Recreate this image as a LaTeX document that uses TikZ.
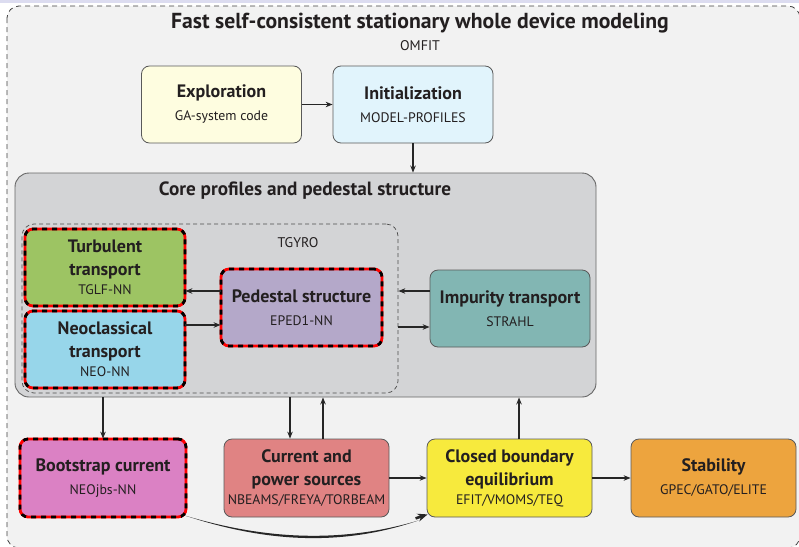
\documentclass[tikz,border=0pt]{standalone}
\usepackage{fontspec}
\setmainfont{PT Sans}
\usetikzlibrary{arrows.meta}
\definecolor{bgout}{HTML}{F2F2F2}
\definecolor{topband}{HTML}{DCDCF0}
\definecolor{corefill}{HTML}{D3D4D6}
\definecolor{explfill}{HTML}{FEFDE0}
\definecolor{initfill}{HTML}{E1F4FC}
\definecolor{turbfill}{HTML}{9DC463}
\definecolor{neofill}{HTML}{97D6EA}
\definecolor{pedfill}{HTML}{B4A8C9}
\definecolor{impfill}{HTML}{82B6B3}
\definecolor{bootfill}{HTML}{DB81C4}
\definecolor{curfill}{HTML}{E08383}
\definecolor{clofill}{HTML}{F7EA3D}
\definecolor{stabfill}{HTML}{EDA43E}
\definecolor{txt}{HTML}{231F20}
\newcommand\boxttl{\bfseries\fontsize{18}{23}\selectfont}
\newcommand\boxsub{\mdseries\fontsize{13.8}{23}\selectfont}
\tikzset{
  box/.style={rounded corners=8pt, draw=black!65, line width=0.8pt,
    minimum width=160pt, minimum height=77pt, align=center, text=txt, inner sep=2pt,
    font=\boxttl},
  nnbox/.style={box, draw=none,
    postaction={draw=red, line width=2.8pt, rounded corners=8pt},
    postaction={draw=black, line width=2.8pt, rounded corners=8pt, dash pattern=on 5pt off 5pt}},
  arr/.style={-{Stealth[length=7pt,width=5.5pt]}, line width=1.1pt, draw=black!85},
}
\begin{document}
\begin{tikzpicture}[x=1pt,y=-1pt]
\useasboundingbox (0,0) rectangle (799,546);
\begin{scope}
\clip (0,0) rectangle (799,546);
\fill[white] (0,0) rectangle (799,546);
\fill[topband] (0,0) rectangle (799,2.5);
\draw[fill=bgout, draw=black!75, line width=0.8pt, dash pattern=on 5pt off 4pt, rounded corners=12pt] (7,6) rectangle (800,548);
\end{scope}

\node[text=txt, font=\bfseries\fontsize{21.7}{26}\selectfont] (title) at (420,23) {Fast self-consistent stationary whole device modeling};
\node[text=txt, font=\fontsize{14}{17}\selectfont] (omfit) at (420,45.5) {OMFIT};

\node[box, fill=explfill] (expl) at (221.5,104.5) {Exploration\\\boxsub GA-system code};
\node[box, fill=initfill] (init) at (413,104.5) {Initialization\\\boxsub MODEL-PROFILES};

\node[draw=black!60, line width=0.9pt, fill=corefill, rounded corners=14pt, minimum width=581pt, minimum height=224pt] (core) at (305.5,285) {};
\node[text=txt, font=\bfseries\fontsize{19.2}{23}\selectfont] (coretitle) at (305,190.5) {Core profiles and pedestal structure};

\node[draw=black!70, line width=0.7pt, dash pattern=on 4pt off 3pt, rounded corners=12pt, minimum width=376pt, minimum height=169pt] (tgyro) at (210,308.5) {};
\node[text=txt, font=\fontsize{14}{17}\selectfont] (tgyrolbl) at (298,243) {TGYRO};

\node[nnbox, fill=turbfill] (turb) at (105,267.5) {Turbulent\\transport\\[-4pt]\boxsub TGLF-NN};
\node[nnbox, fill=neofill] (neo) at (105,349.5) {Neoclassical\\transport\\[-4pt]\boxsub NEO-NN};
\node[nnbox, fill=pedfill, minimum width=161pt] (ped) at (301.5,307.5) {Pedestal structure\\\boxsub EPED1-NN};
\node[box, fill=impfill] (imp) at (510,308.5) {Impurity transport\\\boxsub STRAHL};

\node[nnbox, fill=bootfill, minimum width=166pt, minimum height=78pt] (boot) at (103,478) {Bootstrap current\\\boxsub NEOjbs-NN};
\node[box, fill=curfill, minimum width=165pt, minimum height=78pt] (cur) at (306.5,478) {Current and\\power sources\\[-4pt]\boxsub NBEAMS/FREYA/TORBEAM};
\node[box, fill=clofill, minimum width=165pt, minimum height=78pt] (clo) at (509.5,478) {Closed boundary\\equilibrium\\[-4pt]\boxsub EFIT/VMOMS/TEQ};
\node[box, fill=stabfill, minimum width=165pt, minimum height=78pt] (stab) at (713.5,478) {Stability\\\boxsub GPEC/GATO/ELITE};

% connectors
\draw[arr] (expl.east) -- (init.west);
\draw[arr] (init.south) -- (init.south |- core.north);
\draw[arr] ([yshift=16.5pt]ped.west) -- ([yshift=16.5pt]ped.west -| turb.east);
\draw[arr] ([yshift=24.5pt]neo.east) -- ([yshift=24.5pt]neo.east -| ped.west);
\draw[arr] ([yshift=17.5pt]imp.west) -- ([yshift=17.5pt]imp.west -| tgyro.east);
\draw[arr] ([yshift=-18.5pt]tgyro.east) -- ([yshift=-18.5pt]tgyro.east -| imp.west);
\draw[arr] (boot.north |- core.south) -- (boot.north);
\draw[arr] ([xshift=-16.5pt]cur.north |- core.south) -- ([xshift=-16.5pt]cur.north);
\draw[arr] ([xshift=16.5pt]cur.north) -- ([xshift=16.5pt]cur.north |- core.south);
\draw[arr] ([xshift=9.5pt]clo.north) -- ([xshift=9.5pt]clo.north |- core.south);
\draw[arr] (cur.east) -- (clo.west);
\draw[arr] (clo.east) -- (stab.west);
% tapered curve bootstrap -> equilibrium
\coordinate (cs) at ([xshift=-2pt,yshift=2pt]boot.south east);
\coordinate (ce) at ([xshift=-8pt,yshift=-3pt]clo.south west);
\fill[black!85] (cs) .. controls (250,535) and (330,547) .. (ce)
  .. controls (330,551) and (250,537) .. (cs) -- cycle;
\draw[-{Stealth[length=10pt,width=8pt]}, line width=2.6pt, draw=black!85] ([xshift=-3pt,yshift=2pt]ce) -- ([xshift=1pt,yshift=3pt]clo.south west);
\end{tikzpicture}
\end{document}
